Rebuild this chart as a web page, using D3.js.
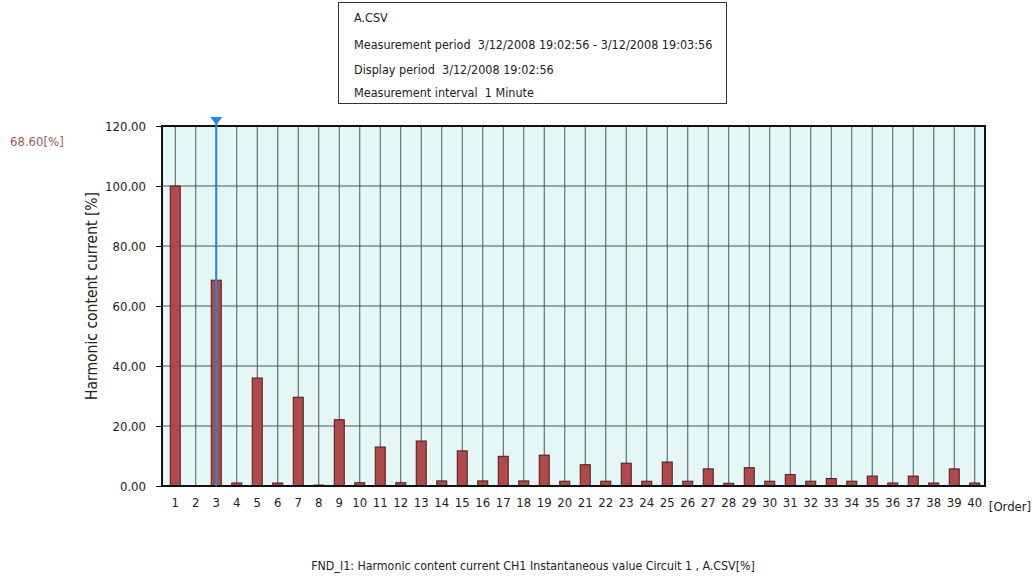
<!DOCTYPE html>
<html><head><meta charset="utf-8">
<script src="https://cdn.jsdelivr.net/npm/d3@7"></script>
<style>
body{margin:0;background:#fff;}
text{font-family:"Liberation Sans Narrow","DejaVu Sans Condensed","Arial Narrow",sans-serif;fill:#222;white-space:pre;}
</style></head><body>
<svg id="c" width="1032" height="579"></svg>
<script>
const orders = d3.range(1, 41).map(String);
const values = [100, 0, 68.6, 1.0, 36.0, 1.0, 29.6, 0.3, 22.1, 1.1,
                13.0, 1.1, 15.0, 1.7, 11.7, 1.7, 9.9, 1.7, 10.3, 1.6,
                7.1, 1.6, 7.6, 1.6, 8.0, 1.6, 5.7, 0.9, 6.1, 1.6,
                3.8, 1.6, 2.5, 1.6, 3.3, 1.0, 3.3, 1.0, 5.7, 1.0];
const yTicks = [0, 20, 40, 60, 80, 100, 120];
const cursorOrder = "3";
const cursorValue = 68.6;
const infoLines = ["A.CSV",
  "Measurement period  3/12/2008 19:02:56 - 3/12/2008 19:03:56",
  "Display period  3/12/2008 19:02:56",
  "Measurement interval  1 Minute"];
const yTitle = "Harmonic content current [%]";
const xUnit = "[Order]";
const caption = "FND_I1: Harmonic content current CH1 Instantaneous value Circuit 1 , A.CSV[%]";

const svg = d3.select("#c");
const L = 162, R = 985, T = 126, B = 486;
const x = d3.scaleBand().domain(orders).range([165, 985]).paddingInner(0);
const y = d3.scaleLinear().domain([0, 120]).range([B, T]);
const FF = '"Liberation Sans Narrow","DejaVu Sans Condensed",sans-serif';

// info box
svg.append("rect").attr("x", 338.5).attr("y", 2.5).attr("width", 388).attr("height", 101)
  .attr("fill", "#fff").attr("stroke", "#333").attr("stroke-width", 1);
svg.selectAll(".info").data(infoLines).join("text")
  .attr("x", 354).attr("y", (d, i) => [22, 49, 74, 97][i])
  .attr("font-size", 12.5).text(d => d);

// plot background
svg.append("rect").attr("x", L).attr("y", T).attr("width", R - L).attr("height", B - T)
  .attr("fill", "#e5f6f6");

// vertical grid
svg.append("g").selectAll("line").data(orders).join("line")
  .attr("x1", d => x(d) + x.bandwidth() / 2).attr("x2", d => x(d) + x.bandwidth() / 2)
  .attr("y1", T).attr("y2", B).attr("stroke", "#4a5a5a").attr("stroke-width", 1);
// horizontal grid
svg.append("g").selectAll("line").data(yTicks.slice(1, -1)).join("line")
  .attr("x1", L).attr("x2", R).attr("y1", d => y(d)).attr("y2", d => y(d))
  .attr("stroke", "#4a5a5a").attr("stroke-width", 1);

// bars
const bw = 10;
svg.append("g").selectAll("rect").data(orders).join("rect")
  .attr("x", d => x(d) + x.bandwidth() / 2 - bw / 2)
  .attr("width", bw)
  .attr("y", (d, i) => y(values[i]))
  .attr("height", (d, i) => Math.max(0, B - y(values[i])))
  .attr("fill", "#b04a4a").attr("stroke", "#4a1a1a").attr("stroke-width", 1)
  .attr("display", (d, i) => values[i] > 0 ? null : "none");

// border
svg.append("rect").attr("x", L).attr("y", T).attr("width", R - L).attr("height", B - T)
  .attr("fill", "none").attr("stroke", "#111").attr("stroke-width", 2);

// y axis
const yAxis = d3.axisLeft(y).tickValues(yTicks).tickFormat(d3.format(".2f")).tickSize(6).tickPadding(10);
const ga = svg.append("g").attr("transform", `translate(${L},0)`).call(yAxis);
ga.select(".domain").remove();
ga.selectAll(".tick line").attr("stroke", "#111");
ga.selectAll(".tick text").attr("font-size", 13).attr("fill", "#222").attr("font-family", FF);

// x axis
const xAxis = d3.axisBottom(x).tickSize(0).tickPadding(12);
const gx = svg.append("g").attr("transform", `translate(0,${B})`).call(xAxis);
gx.select(".domain").remove();
gx.selectAll(".tick text").attr("font-size", 13).attr("fill", "#222").attr("font-family", FF);

svg.append("text").attr("x", 1010).attr("y", 511).attr("text-anchor", "middle")
  .attr("font-size", 13).text(xUnit);

// y title
svg.append("text").attr("transform", `translate(97,296) rotate(-90)`)
  .attr("text-anchor", "middle").attr("font-size", 15.5).text(yTitle);

// cursor
const cx = x(cursorOrder) + x.bandwidth() / 2;
svg.append("line").attr("x1", cx).attr("x2", cx).attr("y1", T - 6).attr("y2", B)
  .attr("stroke", "#1e88e5").attr("stroke-width", 2);
svg.append("path").attr("d", `M${cx - 6},${T - 9} L${cx + 6},${T - 9} L${cx},${T - 1} Z`)
  .attr("fill", "#1e88e5");
svg.append("text").attr("x", 10).attr("y", 146).attr("font-size", 13)
  .style("fill", "#a05a5a").text(d3.format(".2f")(cursorValue) + "[%]");

// caption
svg.append("text").attr("x", 533).attr("y", 570).attr("text-anchor", "middle")
  .attr("font-size", 12.3).text(caption);
</script></body></html>
